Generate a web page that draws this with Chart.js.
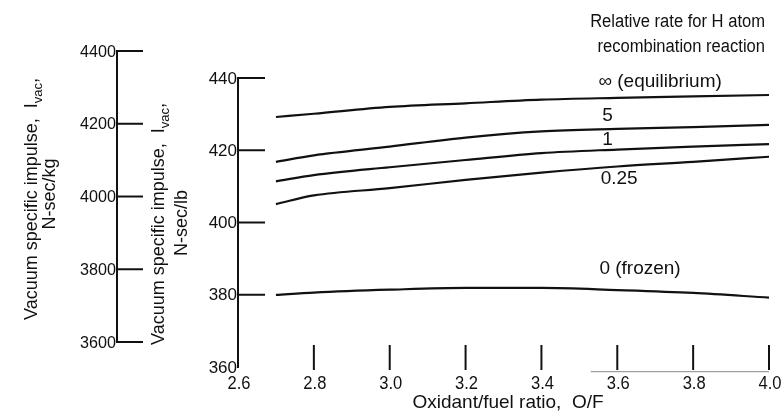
<!DOCTYPE html>
<html lang="en">
<head>
    <meta charset="UTF-8">
    <title>Vacuum specific impulse vs O/F</title>
    <script src="https://cdn.jsdelivr.net/npm/chart.js"></script>
    <style>
        body { margin: 0; padding: 0; background: #fff; }
        #wrap { width: 784px; height: 417px; }
    </style>
</head>
<body>
<div id="wrap"><canvas id="ispChart" width="784" height="417"></canvas></div>
<script>
    // oxidant/fuel ratio where the curves were read
    const ofRatio = [2.7, 2.8, 3.0, 3.2, 3.4, 3.6, 3.8, 4.0];

    // vacuum specific impulse (lbf-sec/lb scale), one curve per relative rate
    const ispEquilibrium = [429.2, 430.1, 432.0, 433.0, 434.0, 434.5, 434.9, 435.3];
    const ispRate5 = [416.8, 418.6, 421.0, 423.5, 425.2, 425.9, 426.4, 427.0];
    const ispRate1 = [411.4, 413.1, 415.3, 417.3, 419.2, 420.2, 421.0, 421.7];
    const ispRate025 = [405.1, 407.5, 409.5, 411.8, 413.8, 415.5, 416.8, 418.2];
    const ispFrozen = [379.95, 380.6, 381.4, 381.9, 381.9, 381.3, 380.5, 379.2];

    // stray piece of baseline at the lower right of the original drawing
    const baselineX = [3.53, 4.0];
    const baselineY = [358.7, 358.7];

    const mainYTicks = [440, 420, 400, 380];
    const xTickMarks = [2.8, 3.0, 3.2, 3.4, 3.6, 3.8, 4.0];
    const siTicks = [4400, 4200, 4000, 3800, 3600];

    // curve labels, in data units (text baseline)
    const curveLabels = [
        { text: '\u221E (equilibrium)', x: 3.713, y: 437.5 },
        { text: '5', x: 3.574, y: 428.1 },
        { text: '1', x: 3.574, y: 421.45 },
        { text: '0.25', x: 3.605, y: 410.6 },
        { text: '0 (frozen)', x: 3.66, y: 385.75 }
    ];
    const headerLines = ['Relative rate for H atom', 'recombination reaction'];

    const FONT = "'Liberation Sans', Arial, sans-serif";
    const INK = '#111';

    function pts(ys) {
        return ofRatio.map((x, i) => ({ x: x, y: ys[i] }));
    }

    function curve(label, ys) {
        return {
            label: label,
            data: pts(ys),
            borderColor: INK,
            borderWidth: 2.2,
            pointRadius: 0,
            fill: false,
            cubicInterpolationMode: 'monotone'
        };
    }

    function drawText(ctx, text, x, y, size, align, scaleX, baseline) {
        ctx.save();
        ctx.font = size + 'px ' + FONT;
        ctx.textAlign = align || 'left';
        ctx.textBaseline = baseline || 'alphabetic';
        ctx.translate(x, y);
        ctx.scale(scaleX || 1, 1);
        ctx.fillText(text, 0, 0);
        ctx.restore();
    }

    // rotated title; parts may be smaller and lowered (subscript)
    function drawVertical(ctx, parts, x, yCenter) {
        let total = 0;
        parts.forEach(p => {
            ctx.font = p.size + 'px ' + FONT;
            p.w = ctx.measureText(p.text).width;
            total += p.w;
        });
        ctx.save();
        ctx.translate(x, yCenter);
        ctx.rotate(-Math.PI / 2);
        ctx.textAlign = 'left';
        ctx.textBaseline = 'alphabetic';
        let pos = -total / 2;
        parts.forEach(p => {
            ctx.font = p.size + 'px ' + FONT;
            ctx.fillText(p.text, pos, p.dy || 0);
            pos += p.w;
        });
        ctx.restore();
    }

    const extras = {
        id: 'extras',
        afterDraw(chart) {
            const ctx = chart.ctx;
            const xs = chart.scales.x, ys = chart.scales.y, si = chart.scales.y2;
            const area = chart.chartArea;
            ctx.save();
            ctx.strokeStyle = INK;
            ctx.fillStyle = INK;
            ctx.lineWidth = 2;

            // inward ticks on the main y axis
            mainYTicks.forEach(v => {
                const py = ys.getPixelForValue(v);
                ctx.beginPath();
                ctx.moveTo(area.left, py);
                ctx.lineTo(area.left + 27, py);
                ctx.stroke();
            });
            ys.ticks.forEach(t => {
                drawText(ctx, String(t.value), area.left - 1, ys.getPixelForValue(t.value) + 1, 17, 'right', 1, 'middle');
            });

            // tick marks standing on the x axis, labels below
            xTickMarks.forEach(v => {
                const px = xs.getPixelForValue(v);
                ctx.beginPath();
                ctx.moveTo(px, area.bottom - 22);
                ctx.lineTo(px, area.bottom + 3);
                ctx.stroke();
            });
            xs.ticks.forEach(t => {
                drawText(ctx, t.value.toFixed(1), xs.getPixelForValue(t.value) + 1, area.bottom + 22, 18, 'center', 0.92);
            });

            // N-sec/kg axis on the left
            const axX = 117;
            ctx.beginPath();
            ctx.moveTo(axX, si.getPixelForValue(siTicks[0]) - 1);
            ctx.lineTo(axX, si.getPixelForValue(siTicks[siTicks.length - 1]) + 1);
            ctx.stroke();
            siTicks.forEach(v => {
                const py = si.getPixelForValue(v);
                ctx.beginPath();
                ctx.moveTo(axX, py);
                ctx.lineTo(axX + 26, py);
                ctx.stroke();
                drawText(ctx, String(v), axX - 1, py + 1, 17, 'right', 0.95, 'middle');
            });

            // axis titles
            const t1 = () => [
                { text: 'Vacuum specific impulse,  I', size: 18 },
                { text: 'vac', size: 13, dy: 5 },
                { text: ',', size: 18 }
            ];
            drawVertical(ctx, t1(), 37, 199);
            drawVertical(ctx, [{ text: 'N-sec/kg', size: 18 }], 55, 194);
            drawVertical(ctx, t1(), 164, 224);
            drawVertical(ctx, [{ text: 'N-sec/lb', size: 18 }], 187, 223);

            // curve labels and header
            curveLabels.forEach(l => {
                drawText(ctx, l.text, xs.getPixelForValue(l.x), ys.getPixelForValue(l.y), 19, 'center', 1);
            });
            drawText(ctx, headerLines[0], 765, 27, 18, 'right', 0.92);
            drawText(ctx, headerLines[1], 765, 52, 18, 'right', 0.92);

            drawText(ctx, 'Oxidant/fuel ratio,  O/F', 508, 408, 19, 'center', 1);
            ctx.restore();
        }
    };

    const ctx = document.getElementById('ispChart').getContext('2d');
    const ispChart = new Chart(ctx, {
        type: 'line',
        data: {
            datasets: [
                curve('\u221E (equilibrium)', ispEquilibrium),
                curve('5', ispRate5),
                curve('1', ispRate1),
                curve('0.25', ispRate025),
                curve('0 (frozen)', ispFrozen),
                {
                    label: 'baseline',
                    data: baselineX.map((x, i) => ({ x: x, y: baselineY[i] })),
                    borderColor: '#888',
                    borderWidth: 1,
                    pointRadius: 0,
                    clip: false
                }
            ]
        },
        options: {
            responsive: false,
            animation: false,
            events: [],
            layout: { padding: { left: 198, top: 78, right: 15, bottom: 0 } },
            plugins: { legend: { display: false }, tooltip: { enabled: false } },
            scales: {
                x: {
                    type: 'linear',
                    min: 2.6,
                    max: 4.0,
                    grid: { display: false, drawTicks: false },
                    border: { display: false },
                    ticks: { stepSize: 0.2, display: false },
                    afterFit: s => { s.height = 50; }
                },
                y: {
                    min: 360,
                    max: 440,
                    grid: { display: false, drawTicks: false },
                    border: { display: true, color: INK, width: 2 },
                    ticks: { stepSize: 20, display: false },
                    afterFit: s => { s.width = 40; }
                },
                y2: {
                    display: false,
                    min: 3531.3,
                    max: 4325.8
                }
            }
        },
        plugins: [extras]
    });
</script>
</body>
</html>
